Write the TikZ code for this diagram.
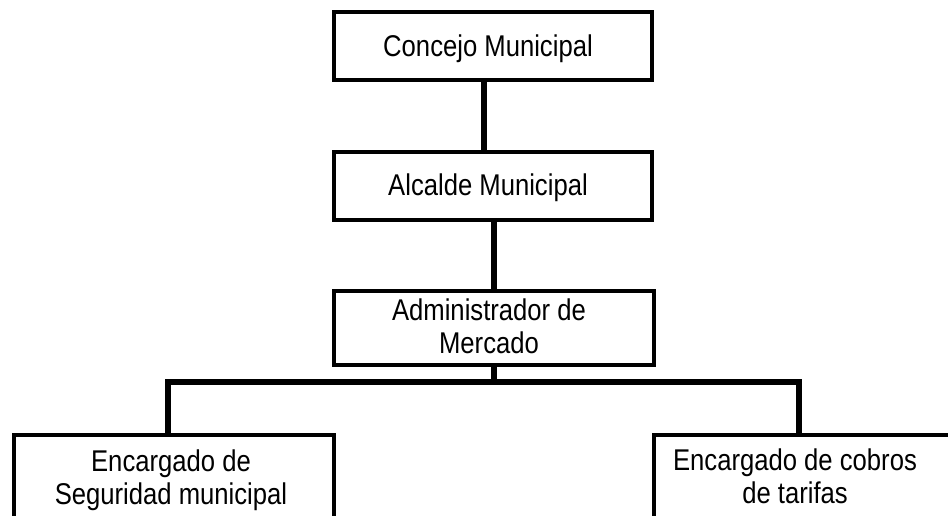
\documentclass[tikz,border=0pt]{standalone}
\usepackage{fontspec}
\setmainfont[FakeStretch=0.855]{Liberation Sans}
\begin{document}
\begin{tikzpicture}[x=1pt,y=-1pt,
  box/.style={draw,line width=4pt,inner sep=0pt,minimum width=320pt},
  lbl/.style={font=\fontsize{30}{33}\selectfont,align=center,anchor=base,inner sep=0pt},
  conn/.style={line width=6.5pt}]
\useasboundingbox (0,0) rectangle (948,516);
\clip (0,0) rectangle (948,516);
% boxes
\node[box,minimum width=318pt,minimum height=68pt] (c) at (493,46) {};
\node[box,minimum width=318pt,minimum height=68pt] (a) at (493,186) {};
\node[box,minimum height=74pt] (m) at (494,328) {};
\node[box,minimum height=125pt] (l) at (174,497.5) {};
\node[box,minimum height=125pt] (r) at (814,497.5) {};
% texts (base = baseline of last line)
\node[lbl] (tc) at (488,57) {Concejo Municipal};
\node[lbl] (ta) at (488,195) {Alcalde Municipal};
\node[lbl] (tm) at (489,353) {Administrador de\\Mercado};
\node[lbl] (tl) at (171,504) {Encargado de\\Seguridad municipal};
\node[lbl] (tr) at (795,503) {Encargado de cobros\\de tarifas};
% connectors
\coordinate (x1) at (484,0);
\coordinate (x2) at (494,0);
\coordinate (bus) at (0,382);
\coordinate (lx) at (168,0);
\coordinate (rx) at (799,0);
\draw[conn] (c.south -| x1) -- (a.north -| x1);
\draw[conn] (a.south -| x2) -- (m.north -| x2);
\draw[conn] (m.south -| x2) -- (bus -| x2);
\draw[conn] (l.north -| lx) -- (bus -| lx) -- (bus -| rx) -- (r.north -| rx);
\end{tikzpicture}
\end{document}
